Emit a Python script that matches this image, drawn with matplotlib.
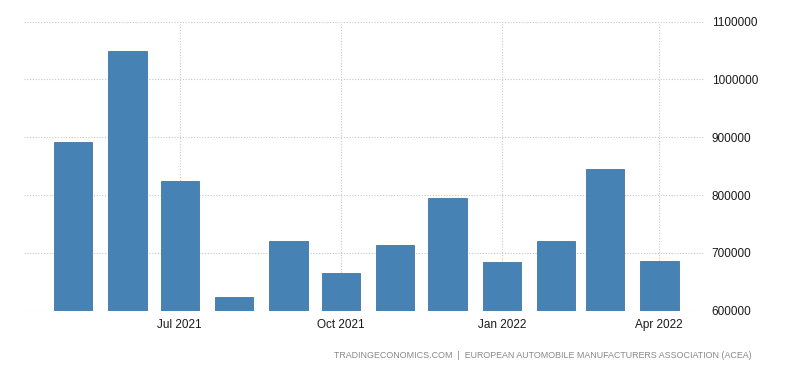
import matplotlib.pyplot as plt
import matplotlib.dates as mdates
import pandas as pd

# monthly new car registrations (ACEA)
months = ['2021-05-01', '2021-06-01', '2021-07-01', '2021-08-01', '2021-09-01', '2021-10-01',
          '2021-11-01', '2021-12-01', '2022-01-01', '2022-02-01', '2022-03-01', '2022-04-01']
values = [891900, 1049700, 824000, 623000, 720000, 666000,
          713500, 795000, 683600, 720000, 844700, 685300]
tick_dates = ['2021-07-01', '2021-10-01', '2022-01-01', '2022-04-01']
tick_labels = ['Jul 2021', 'Oct 2021', 'Jan 2022', 'Apr 2022']
y_ticks = [600000, 700000, 800000, 900000, 1000000, 1100000]

plt.rcParams['font.family'] = ['Liberation Sans', 'DejaVu Sans']

dates = pd.to_datetime(months)
fig = plt.figure(figsize=(8, 3.73), dpi=100)
ax = fig.add_axes([0.03, 0.167, 0.851, 0.775])

ax.bar(dates, values, width=22, color='#4682b4', edgecolor='#3f77a6', linewidth=0.6, zorder=3)

ax.set_ylim(600000, 1100000)
ax.set_xlim(pd.Timestamp('2021-04-03'), pd.Timestamp('2022-04-27'))
ax.set_yticks(y_ticks)
ax.set_yticklabels([str(v) for v in y_ticks])
ax.set_xticks(pd.to_datetime(tick_dates))
ax.set_xticklabels(tick_labels)

ax.yaxis.tick_right()
ax.tick_params(axis='both', length=0, labelsize=8.5, colors='#1a1a1a')
ax.tick_params(axis='y', pad=5)
ax.tick_params(axis='x', pad=6)
for s in ax.spines.values():
    s.set_visible(False)
ax.grid(True, color='#c8c8c8', linestyle=(0, (1, 1.5)), linewidth=0.8, zorder=0)

fig.text(0.94, 0.035, 'TRADINGECONOMICS.COM  |  EUROPEAN AUTOMOBILE MANUFACTURERS ASSOCIATION (ACEA)',
         ha='right', va='bottom', fontsize=6.4, color='#888888')

fig.savefig('out.png', dpi=100)
